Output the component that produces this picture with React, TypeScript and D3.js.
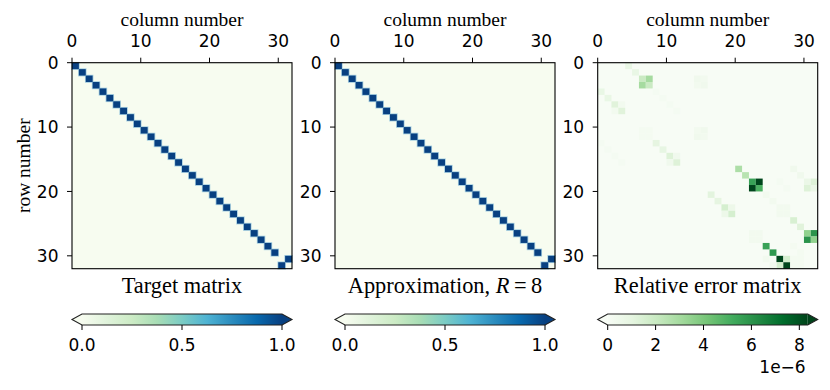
import React from "react";
import * as d3 from "d3";

// --- data ---------------------------------------------------------------
const N = 32;
const matTicks = [0, 10, 20, 30];

// column holding the 1 in each row (identity, last two rows swapped)
const targetCols = [
  0, 1, 2, 3, 4, 5, 6, 7, 8, 9, 10, 11, 12, 13, 14, 15,
  16, 17, 18, 19, 20, 21, 22, 23, 24, 25, 26, 27, 28, 29, 31, 30,
];
const approxCols = [
  0, 1, 2, 3, 4, 5, 6, 7, 8, 9, 10, 11, 12, 13, 14, 15,
  16, 17, 18, 19, 20, 21, 22, 23, 24, 25, 26, 27, 28, 29, 31, 30,
];

// relative error, [row, col, value in units of 1e-6]
const errorCells: [number, number, number][] = [
  [0, 4, 0.8], [1, 5, 0.8],
  [2, 6, 2.0], [2, 7, 3.0], [3, 6, 3.0], [3, 7, 2.0],
  [2, 14, 0.4], [2, 15, 0.3], [3, 14, 0.3], [3, 15, 0.4],
  [4, 0, 0.8], [5, 1, 0.8],
  [6, 2, 1.2], [6, 3, 0.3], [7, 2, 0.3], [7, 3, 1.2],
  [4, 8, 0.15], [5, 9, 0.15], [6, 10, 0.15], [7, 11, 0.15],
  [10, 6, 0.2], [10, 7, 0.2], [11, 6, 0.2], [11, 7, 0.2],
  [10, 14, 0.3], [10, 15, 0.4], [11, 14, 0.4], [11, 15, 0.3],
  [12, 0, 0.15], [13, 1, 0.15], [14, 2, 0.15], [15, 3, 0.15],
  [12, 8, 1.0], [13, 9, 0.9],
  [14, 10, 1.3], [14, 11, 0.4], [15, 10, 0.4], [15, 11, 1.3],
  [16, 20, 2.8], [17, 21, 2.5],
  [18, 22, 5.5], [18, 23, 8.3], [19, 22, 8.3], [19, 23, 5.0],
  [16, 28, 0.4], [17, 29, 0.4],
  [18, 30, 0.7], [18, 31, 1.3], [19, 30, 1.3], [19, 31, 0.7],
  [18, 26, 0.15], [19, 27, 0.15],
  [20, 16, 1.1], [21, 17, 1.0],
  [22, 18, 1.6], [22, 19, 0.6], [23, 18, 0.6], [23, 19, 1.6],
  [20, 24, 0.3], [21, 25, 0.3], [22, 26, 0.3], [22, 27, 0.3], [23, 26, 0.3], [23, 27, 0.3],
  [24, 28, 1.5], [25, 29, 1.2],
  [26, 30, 3.5], [26, 31, 6.0], [27, 30, 6.0], [27, 31, 3.5],
  [26, 22, 0.3], [26, 23, 0.3], [27, 22, 0.3], [27, 23, 0.3],
  [28, 24, 5.5], [29, 25, 5.8],
  [30, 26, 8.3], [30, 27, 1.6], [31, 26, 1.6], [31, 27, 8.3],
  [30, 24, 0.3], [31, 25, 0.3], [28, 28, 0.2], [29, 29, 0.2],
  [30, 28, 0.2], [30, 29, 0.2], [31, 28, 0.2], [31, 29, 0.2],
];

const gnbuColors = ["#f7fcf0", "#e0f3db", "#ccebc5", "#a8ddb5", "#7bccc4", "#4eb3d3", "#2b8cbe", "#0868ac", "#084081"];
const greensColors = ["#f7fcf5", "#e5f5e0", "#c7e9c0", "#a1d99b", "#74c476", "#41ab5d", "#238b45", "#006d2c", "#00441b"];

const unitTicks = [0, 0.5, 1];
const errTicks = [0, 2, 4, 6, 8];
const errMax = 8.35;

// --- layout -------------------------------------------------------------
const W = 830;
const H = 390;
const panelW = 220;
const top = 62.7;
const bottom = 268.7;
const panelX = [72, 335, 597.7];
const cbTop = 314;
const cbH = 11;

const tickFont = "DejaVu Sans, sans-serif";
const tickSize = 17;
const serif = "Liberation Serif, Times New Roman, serif";

const makeCmap = (colors: string[], max: number) =>
  d3
    .scaleLinear<string>()
    .domain(colors.map((_, i) => (i / (colors.length - 1)) * max))
    .range(colors)
    .clamp(true);

type Cell = { r: number; c: number; v: number };

const Matrix = ({ x0, cells, cmap, bg, title, yLabel, halo }: any) => {
  const x = d3.scaleLinear().domain([0, N]).range([x0, x0 + panelW]);
  const y = d3.scaleLinear().domain([0, N]).range([top, bottom]);
  return (
    <g>
      <rect x={x0} y={top} width={panelW} height={bottom - top} fill={bg} />
      {halo &&
        cells.map((d: Cell, i: number) => (
          <rect
            key={"h" + i}
            x={x(d.c) - 0.8}
            y={y(d.r) - 0.8}
            width={x(d.c + 1) - x(d.c) + 1.6}
            height={y(d.r + 1) - y(d.r) + 1.6}
            fill={halo}
          />
        ))}
      {cells.map((d: Cell, i: number) => (
        <rect
          key={i}
          x={x(d.c)}
          y={y(d.r)}
          width={x(d.c + 1) - x(d.c)}
          height={y(d.r + 1) - y(d.r)}
          fill={cmap(d.v)}
        />
      ))}
      <rect x={x0} y={top} width={panelW} height={bottom - top} fill="none" stroke="#000" strokeWidth={1.1} />
      {matTicks.map((t) => (
        <g key={"x" + t}>
          <line x1={x(t)} x2={x(t)} y1={top} y2={top - 5} stroke="#000" strokeWidth={1} />
          <text x={x(t)} y={46.7} textAnchor="middle" fontFamily={tickFont} fontSize={tickSize}>
            {t}
          </text>
        </g>
      ))}
      {matTicks.map((t) => (
        <g key={"y" + t}>
          <line x1={x0} x2={x0 - 5} y1={y(t)} y2={y(t)} stroke="#000" strokeWidth={1} />
          <text x={x0 - 13.5} y={y(t) + 6.1} textAnchor="end" fontFamily={tickFont} fontSize={tickSize}>
            {t}
          </text>
        </g>
      ))}
      <text x={x0 + panelW / 2} y={25.7} textAnchor="middle" fontFamily={serif} fontSize={19.5}>
        column number
      </text>
      {yLabel && (
        <text
          transform={`translate(29.5,${(top + bottom) / 2}) rotate(-90)`}
          textAnchor="middle"
          fontFamily={serif}
          fontSize={19.5}
        >
          row number
        </text>
      )}
      <text x={x0 + panelW / 2} y={293.3} textAnchor="middle" fontFamily={serif} fontSize={22.4}>
        {title}
      </text>
    </g>
  );
};

const Colorbar = ({ x0, id, colors, max, ticks, fmt, offset }: any) => {
  const a = x0 + 10;
  const b = x0 + 210;
  const s = d3.scaleLinear().domain([0, max]).range([a, b]);
  const mid = cbTop + cbH / 2;
  const outline = `M${a},${cbTop} L${b},${cbTop} L${x0 + panelW},${mid} L${b},${cbTop + cbH} L${a},${cbTop + cbH} L${x0},${mid} Z`;
  return (
    <g>
      <defs>
        <linearGradient id={id} x1="0" x2="1" y1="0" y2="0">
          {colors.map((c: string, i: number) => (
            <stop key={i} offset={i / (colors.length - 1)} stopColor={c} />
          ))}
        </linearGradient>
      </defs>
      <path d={`M${a},${cbTop} L${x0},${mid} L${a},${cbTop + cbH} Z`} fill={colors[0]} />
      <path d={`M${b},${cbTop} L${x0 + panelW},${mid} L${b},${cbTop + cbH} Z`} fill={colors[colors.length - 1]} />
      <rect x={a} y={cbTop} width={b - a} height={cbH} fill={`url(#${id})`} />
      <path d={outline} fill="none" stroke="#222" strokeWidth={1.1} />
      {ticks.map((t: number) => (
        <g key={t}>
          <line x1={s(t)} x2={s(t)} y1={cbTop + cbH} y2={cbTop + cbH + 5} stroke="#000" strokeWidth={1} />
          <text x={s(t)} y={351} textAnchor="middle" fontFamily={tickFont} fontSize={tickSize}>
            {fmt(t)}
          </text>
        </g>
      ))}
      {offset && (
        <text x={x0 + 208} y={373} textAnchor="end" fontFamily={tickFont} fontSize={tickSize}>
          {offset}
        </text>
      )}
    </g>
  );
};

export default function App() {
  const gnbu = makeCmap(gnbuColors, 1);
  const greens = makeCmap(greensColors, errMax);
  const targetCells: Cell[] = targetCols.map((c, r) => ({ r, c, v: 1 }));
  const approxCells: Cell[] = approxCols.map((c, r) => ({ r, c, v: 1 }));
  const errCells: Cell[] = errorCells.map(([r, c, v]) => ({ r, c, v }));
  const f1 = d3.format(".1f");

  return (
    <svg width={W} height={H} style={{ position: "absolute", left: 0, top: 0, background: "#fff" }}>
      <Matrix x0={panelX[0]} cells={targetCells} cmap={gnbu} bg={gnbuColors[0]} halo="#a6cfe0" title="Target matrix" yLabel />
      <Matrix
        x0={panelX[1]}
        cells={approxCells}
        cmap={gnbu}
        bg={gnbuColors[0]}
        halo="#a6cfe0"
        title={
          <>
            Approximation, <tspan fontStyle="italic">R</tspan>
            {"\u2009=\u20098"}
          </>
        }
      />
      <Matrix x0={panelX[2]} cells={errCells} cmap={greens} bg={greensColors[0]} title="Relative error matrix" />
      <Colorbar x0={panelX[0]} id="cb1" colors={gnbuColors} max={1} ticks={unitTicks} fmt={f1} />
      <Colorbar x0={panelX[1]} id="cb2" colors={gnbuColors} max={1} ticks={unitTicks} fmt={f1} />
      <Colorbar x0={panelX[2]} id="cb3" colors={greensColors} max={errMax} ticks={errTicks} fmt={(t: number) => String(t)} offset={"1e\u22126"} />
    </svg>
  );
}
